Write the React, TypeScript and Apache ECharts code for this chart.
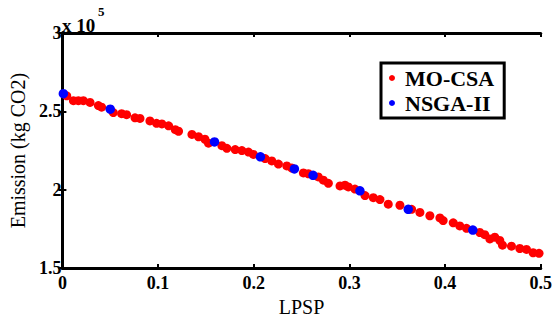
import React, { useEffect, useRef } from "react";
import * as echarts from "echarts";

// LPSP (x) and Emission in units of 10^5 kg CO2 (y)
const moCsaX = [0.0045, 0.0115, 0.0167, 0.0219, 0.0289, 0.0376, 0.041, 0.0532, 0.0619, 0.0671, 0.0759, 0.0811, 0.0915, 0.0984, 0.104, 0.111, 0.118, 0.1214, 0.1354, 0.1423, 0.149, 0.1527, 0.1667, 0.1719, 0.1806, 0.1876, 0.1945, 0.1997, 0.2119, 0.2189, 0.2258, 0.2346, 0.2398, 0.2519, 0.2571, 0.2675, 0.2728, 0.278, 0.2902, 0.2954, 0.2989, 0.3058, 0.3163, 0.325, 0.3319, 0.3406, 0.3528, 0.365, 0.3737, 0.3841, 0.3946, 0.398, 0.4085, 0.4154, 0.4224, 0.4363, 0.4415, 0.4468, 0.452, 0.4572, 0.46, 0.4694, 0.4781, 0.4851, 0.492, 0.4982];
const moCsaY = [2.599, 2.568, 2.568, 2.568, 2.557, 2.537, 2.527, 2.492, 2.485, 2.479, 2.459, 2.455, 2.439, 2.424, 2.42, 2.408, 2.383, 2.373, 2.353, 2.338, 2.322, 2.297, 2.281, 2.264, 2.256, 2.25, 2.24, 2.225, 2.199, 2.184, 2.164, 2.152, 2.138, 2.107, 2.102, 2.082, 2.061, 2.041, 2.024, 2.029, 2.018, 2.004, 1.963, 1.949, 1.937, 1.908, 1.901, 1.875, 1.855, 1.834, 1.82, 1.803, 1.789, 1.769, 1.754, 1.727, 1.713, 1.686, 1.697, 1.676, 1.646, 1.64, 1.625, 1.619, 1.598, 1.594];
const nsgaX = [0.001, 0.05, 0.159, 0.207, 0.2425, 0.262, 0.311, 0.3615, 0.429];
const nsgaY = [2.613, 2.514, 2.305, 2.21, 2.133, 2.092, 1.993, 1.875, 1.743];

const xTicks = { min: 0, max: 0.5, interval: 0.1 };
const yTicks = { min: 1.5, max: 3, interval: 0.5 };

const SERIF = "Liberation Serif";

export default function App() {
  const ref = useRef<HTMLDivElement>(null);
  useEffect(() => {
    if (!ref.current) return;
    const chart = echarts.init(ref.current, null, { renderer: "svg" });
    const axisLine = { show: true, lineStyle: { color: "#000", width: 3 } };
    const axisTick = { show: true, inside: true, length: 4, lineStyle: { color: "#000", width: 2 } };
    const labelStyle = { color: "#000", fontFamily: SERIF, fontWeight: "bold" as const, fontSize: 18 };
    chart.setOption({
      animation: false,
      backgroundColor: "#fff",
      title: [
        {
          text: "x 10", left: 62, top: 16, padding: 0,
          textStyle: { color: "#000", fontFamily: SERIF, fontWeight: "bold", fontSize: 19 },
        },
        {
          text: "5", left: 98, top: 5, padding: 0,
          textStyle: { color: "#000", fontFamily: SERIF, fontWeight: "bold", fontSize: 13 },
        },
      ],
      grid: { left: 62, right: 14, top: 33, bottom: 45, containLabel: false },
      xAxis: [
        {
          type: "value", ...xTicks, position: "bottom",
          axisLine, axisTick, splitLine: { show: false },
          axisLabel: { ...labelStyle, margin: 6, formatter: (v: number) => String(+v.toFixed(1)) },
          name: "LPSP", nameLocation: "middle", nameGap: 24,
          nameTextStyle: { color: "#000", fontFamily: SERIF, fontSize: 20 },
        },
        {
          type: "value", ...xTicks, position: "top",
          axisLine, axisTick, splitLine: { show: false }, axisLabel: { show: false },
        },
      ],
      yAxis: [
        {
          type: "value", ...yTicks, position: "left",
          axisLine, axisTick, splitLine: { show: false },
          axisLabel: { ...labelStyle, margin: 1, formatter: (v: number) => String(+v.toFixed(1)) },
          name: "Emission (kg CO2)", nameLocation: "middle", nameGap: 34, nameRotate: 90,
          nameTextStyle: { color: "#000", fontFamily: SERIF, fontSize: 20 },
        },
        {
          type: "value", ...yTicks, position: "right",
          axisLine, axisTick, splitLine: { show: false }, axisLabel: { show: false },
        },
      ],
      legend: {
        orient: "vertical",
        left: 381,
        top: 63,
        backgroundColor: "#fff",
        borderColor: "#000",
        borderWidth: 3,
        borderRadius: 0,
        padding: [4, 10, 4, 8],
        itemGap: 3,
        itemWidth: 6,
        itemHeight: 6,
        icon: "circle",
        textStyle: { color: "#000", fontFamily: SERIF, fontWeight: "bold", fontSize: 22, padding: [0, 0, 0, 5] },
        data: ["MO-CSA", "NSGA-II"],
      },
      series: [
        {
          name: "MO-CSA", type: "scatter", symbol: "circle", symbolSize: 9,
          itemStyle: { color: "#ff0000", opacity: 1 },
          data: moCsaX.map((x, i) => [x, moCsaY[i]]),
          z: 2,
        },
        {
          name: "NSGA-II", type: "scatter", symbol: "circle", symbolSize: 9.5,
          itemStyle: { color: "#0000ff", opacity: 1 },
          data: nsgaX.map((x, i) => [x, nsgaY[i]]),
          z: 3,
        },
      ],
    });
    return () => chart.dispose();
  }, []);
  return <div ref={ref} style={{ width: 555, height: 322, position: "absolute", left: 0, top: 0 }} />;
}
